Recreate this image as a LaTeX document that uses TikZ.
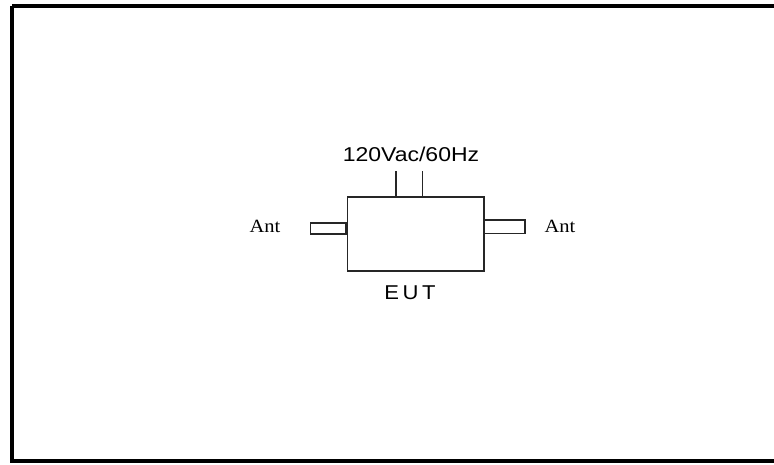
\documentclass[tikz,border=0pt]{standalone}
\usepackage{fontspec}
\setmainfont{Liberation Sans}
\newfontfamily\antfont{Liberation Serif}
\begin{document}
\begin{tikzpicture}[x=0.75pt,y=-0.75pt,
  frame/.style={line width=2.4pt,black},
  part/.style={draw,line width=1.2pt,black!85},
  lbl/.style={inner sep=0pt,font=\fontsize{15}{18}\selectfont},
  antlbl/.style={inner sep=0pt,font=\antfont\fontsize{14}{16}\selectfont}]
\useasboundingbox (0,0) rectangle (774,464);
\draw[frame] (12,6) -- (790,6);
\draw[frame] (12,6) -- (12,461) -- (790,461);
\node[part,minimum width=136.5pt*0.75/0.75,inner sep=0pt,anchor=north west,minimum width=102.4pt,minimum height=55.5pt] (eut) at (346.7,196) {};
\coordinate (p1) at (395.7,171);
\coordinate (p2) at (422.3,171);
\draw[part] (p1) -- (p1 |- eut.north);
\draw[part] (p2) -- (p2 |- eut.north);
\node[part,anchor=east,minimum width=26.5pt,minimum height=8.5pt,inner sep=0pt] (antL) at (346.7,228.5) {};
\node[part,anchor=west,minimum width=31pt,minimum height=10pt,inner sep=0pt] (antR) at (483,226.8) {};
\node[lbl] (pwr) at (411,154) {\scalebox{1.15}[1]{120Vac/60Hz}};
\node[lbl] (eutl) at (410,293) {\scalebox{1.1}[1]{E\,U\,T}};
\node[antlbl] (aL) at (265,226) {\scalebox{1.1}[1]{Ant}};
\node[antlbl] (aR) at (560,226) {\scalebox{1.1}[1]{Ant}};
\end{tikzpicture}
\end{document}
